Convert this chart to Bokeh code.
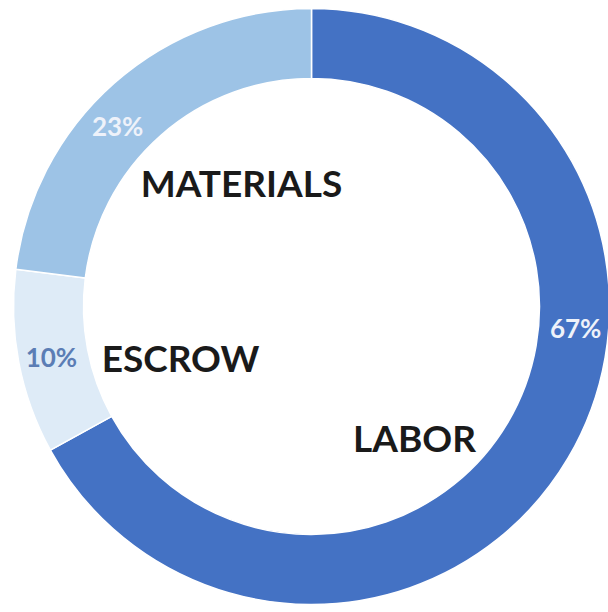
import math
from bokeh.plotting import figure
from bokeh.models import Range1d, ColumnDataSource
from bokeh.core.properties import value
from bokeh.embed import file_html
from bokeh.resources import INLINE

categories = ["LABOR", "ESCROW", "MATERIALS"]
shares = [67, 10, 23]
pct_labels = ["67%", "10%", "23%"]
colors = ["#4472C4", "#DEEBF7", "#9DC3E6"]
pct_colors = ["#EEF2FA", "#5B7DB5", "#EEF2FA"]

W, H = 608, 612
cx, cy = 311, 306
r_out, r_in = 298, 228

# wedges clockwise from 12 o'clock
starts, ends = [], []
a = math.pi / 2
for s in shares:
    e = a - s / 100 * 2 * math.pi
    starts.append(e)
    ends.append(a)
    a = e

src = ColumnDataSource(dict(start=starts, end=ends, color=colors, cat=categories))

p = figure(width=W, height=H, output_backend="svg", toolbar_location=None,
           x_range=Range1d(0, W), y_range=Range1d(0, H),
           min_border=0)
p.axis.visible = False
p.grid.visible = False
p.outline_line_color = None
p.background_fill_color = "white"
p.border_fill_color = "white"

p.annular_wedge(x=cx, y=H - cy, inner_radius=r_in, outer_radius=r_out,
                start_angle="start", end_angle="end", color="color",
                line_color="white", line_width=1.5, source=src)

# percentage labels placed on the ring (angle in degrees, radius)
pct_angles = [-4.7, 191, 137]
pct_r = 265
px = [cx + pct_r * math.cos(math.radians(t)) for t in pct_angles]
py = [H - cy + pct_r * math.sin(math.radians(t)) for t in pct_angles]
p.text(x=px, y=py, text=pct_labels, text_color=pct_colors,
       text_font=value("Lato"), text_font_size="26px", text_font_style="bold",
       text_align="center", text_baseline="middle")

# category labels inside the ring
cat_x = [414, 180, 241]
cat_y = [H - 437, H - 357, H - 182]
p.text(x=cat_x, y=cat_y, text=categories, text_color="#1a1a1a",
       text_font=value("Lato"), text_font_size="37px", text_font_style="bold",
       text_align="center", text_baseline="middle")

open("out.html", "w").write(file_html(p, INLINE))
